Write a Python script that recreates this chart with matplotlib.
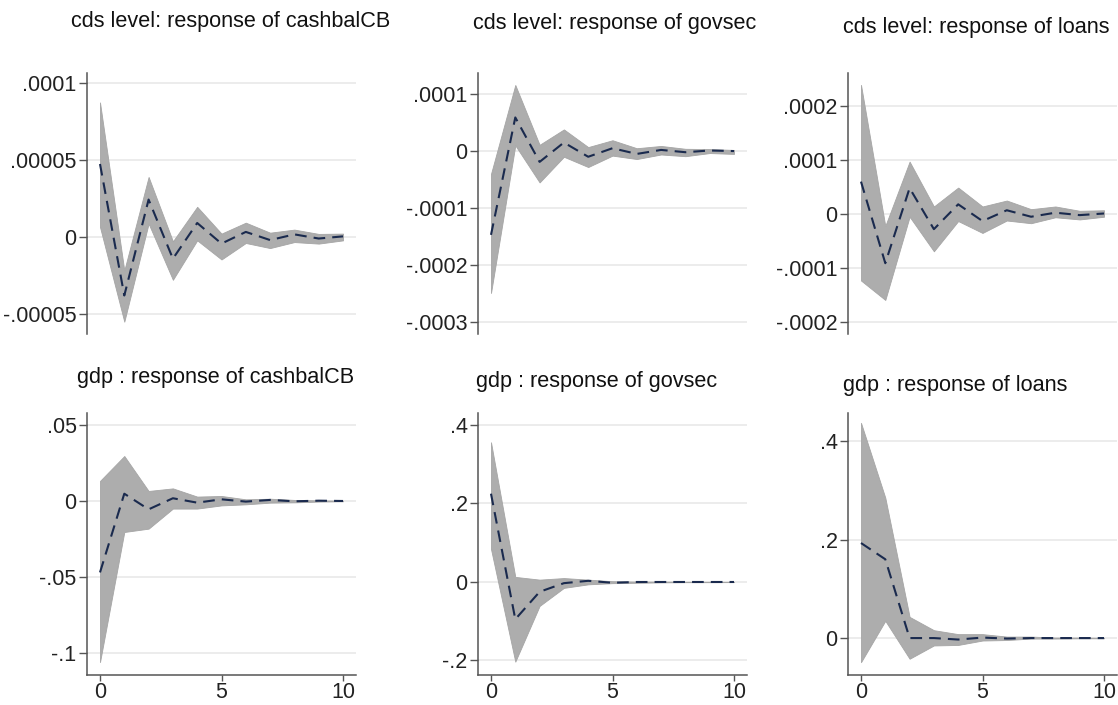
import matplotlib.pyplot as plt

plt.rcParams['font.family'] = ['Liberation Sans', 'DejaVu Sans']

steps = list(range(11))

# cds level -> cashbalCB
irf_cds_cash = [4.74e-5, -3.8e-5, 2.43e-5, -1.41e-5, 0.91e-5, -0.43e-5, 0.33e-5, -0.2e-5, 0.17e-5, -0.1e-5, 0.04e-5]
up_cds_cash = [8.74e-5, -2.17e-5, 3.9e-5, -0.28e-5, 1.96e-5, 0.22e-5, 0.93e-5, 0.28e-5, 0.48e-5, 0.2e-5, 0.22e-5]
lo_cds_cash = [0.65e-5, -5.5e-5, 0.87e-5, -2.78e-5, -0.22e-5, -1.46e-5, -0.39e-5, -0.72e-5, -0.33e-5, -0.43e-5, -0.22e-5]

# cds level -> govsec
irf_cds_gov = [-1.47e-4, 0.59e-4, -0.19e-4, 0.15e-4, -0.1e-4, 0.05e-4, -0.05e-4, 0.02e-4, -0.02e-4, 0.01e-4, 0.0]
up_cds_gov = [-0.4e-4, 1.16e-4, 0.11e-4, 0.38e-4, 0.07e-4, 0.19e-4, 0.05e-4, 0.09e-4, 0.04e-4, 0.035e-4, 0.02e-4]
lo_cds_gov = [-2.49e-4, 0.1e-4, -0.55e-4, -0.1e-4, -0.28e-4, -0.08e-4, -0.14e-4, -0.06e-4, -0.09e-4, -0.035e-4, -0.05e-4]

# cds level -> loans
irf_cds_loans = [0.6e-4, -0.91e-4, 0.48e-4, -0.28e-4, 0.18e-4, -0.13e-4, 0.07e-4, -0.05e-4, 0.025e-4, -0.02e-4, 0.01e-4]
up_cds_loans = [2.39e-4, -0.22e-4, 0.97e-4, 0.14e-4, 0.49e-4, 0.14e-4, 0.25e-4, 0.09e-4, 0.14e-4, 0.06e-4, 0.07e-4]
lo_cds_loans = [-1.23e-4, -1.59e-4, -0.05e-4, -0.69e-4, -0.13e-4, -0.35e-4, -0.12e-4, -0.17e-4, -0.06e-4, -0.1e-4, -0.05e-4]

# gdp -> cashbalCB
irf_gdp_cash = [-0.047, 0.0048, -0.0055, 0.0018, -0.0011, 0.0011, -0.0004, 0.0007, -0.0002, 0.0002, 0.0]
up_gdp_cash = [0.0132, 0.0296, 0.0066, 0.0083, 0.0029, 0.0033, 0.0011, 0.0015, 0.0007, 0.0004, 0.0002]
lo_gdp_cash = [-0.106, -0.0204, -0.0182, -0.005, -0.005, -0.0029, -0.0022, -0.0011, -0.0009, -0.0004, -0.0002]

# gdp -> govsec
irf_gdp_gov = [0.225, -0.095, -0.025, -0.003, 0.003, -0.002, 0.0, 0.0, 0.0, 0.0, 0.0]
up_gdp_gov = [0.356, 0.013, 0.006, 0.01, 0.006, 0.002, 0.001, 0.001, 0.0005, 0.0005, 0.0003]
lo_gdp_gov = [0.084, -0.203, -0.061, -0.015, -0.006, -0.003, -0.002, -0.001, -0.0005, -0.0005, -0.0003]

# gdp -> loans
irf_gdp_loans = [0.193, 0.16, 0.0, 0.0, -0.003, 0.001, -0.001, 0.0, 0.0, 0.0, 0.0]
up_gdp_loans = [0.437, 0.285, 0.043, 0.016, 0.008, 0.008, 0.003, 0.003, 0.001, 0.001, 0.0005]
lo_gdp_loans = [-0.049, 0.035, -0.042, -0.015, -0.014, -0.005, -0.004, -0.001, -0.001, -0.0005, -0.0005]

titles = ['cds level: response of cashbalCB', 'cds level: response of govsec', 'cds level: response of loans',
          'gdp : response of cashbalCB', 'gdp : response of govsec', 'gdp : response of loans']

yticks = [[1e-4, 5e-5, 0, -5e-5], [1e-4, 0, -1e-4, -2e-4, -3e-4], [2e-4, 1e-4, 0, -1e-4, -2e-4],
          [0.05, 0, -0.05, -0.1], [0.4, 0.2, 0, -0.2], [0.4, 0.2, 0]]
ylabels = [['.0001', '.00005', '0', '-.00005'], ['.0001', '0', '-.0001', '-.0002', '-.0003'],
           ['.0002', '.0001', '0', '-.0001', '-.0002'],
           ['.05', '0', '-.05', '-.1'], ['.4', '.2', '0', '-.2'], ['.4', '.2', '0']]
ylims = [(-0.63e-4, 1.065e-4), (-3.21e-4, 1.37e-4), (-2.22e-4, 2.61e-4),
         (-0.1145, 0.0579), (-0.237, 0.4306), (-0.075, 0.457)]

panels = [(irf_cds_cash, up_cds_cash, lo_cds_cash), (irf_cds_gov, up_cds_gov, lo_cds_gov),
          (irf_cds_loans, up_cds_loans, lo_cds_loans), (irf_gdp_cash, up_gdp_cash, lo_gdp_cash),
          (irf_gdp_gov, up_gdp_gov, lo_gdp_gov), (irf_gdp_loans, up_gdp_loans, lo_gdp_loans)]

W, H = 1118, 705
fig = plt.figure(figsize=(W / 100, H / 100), dpi=100)

lefts = [87, 478, 848]
width = 269
rows = [(73, 334), (413, 675)]
# title positions (pixels): left x, center y
title_pos = [(71, 21), (473, 23), (843, 28), (77, 377), (476, 381), (843, 385)]

for i, (irf, up, lo) in enumerate(panels):
    r, c = divmod(i, 3)
    top, bot = rows[r]
    ax = fig.add_axes([lefts[c] / W, 1 - bot / H, width / W, (bot - top) / H])
    ax.fill_between(steps, lo, up, color='#adadad', lw=0.6, edgecolor='#a5a5a5', zorder=2)
    ax.plot(steps, irf, color='#1a2a4e', lw=1.5, dashes=(5.6, 3.4), zorder=3)
    ax.set_xlim(-0.535, 10.535)
    ax.set_ylim(*ylims[i])
    ax.set_yticks(yticks[i])
    ax.set_yticklabels(ylabels[i])
    for y in yticks[i]:
        ax.axhline(y, color='#ebebeb', lw=1.3, zorder=1)
    for s in ['top', 'right']:
        ax.spines[s].set_visible(False)
    ax.spines['left'].set_color('#555555')
    ax.spines['left'].set_linewidth(1.1)
    ax.tick_params(axis='y', length=5.5, width=1, color='#555555', labelsize=15.5, pad=2, labelcolor='#222222')
    if r == 0:
        ax.spines['bottom'].set_visible(False)
        ax.set_xticks([])
    else:
        ax.spines['bottom'].set_color('#555555')
        ax.spines['bottom'].set_linewidth(1.1)
        ax.set_xticks([0, 5, 10])
        ax.tick_params(axis='x', length=4.5, width=1, color='#555555', labelsize=15.5, pad=0.5, labelcolor='#222222')
    tx, ty = title_pos[i]
    fig.text(tx / W, 1 - ty / H, titles[i], fontsize=15.6, color='#111111', ha='left', va='center')

fig.savefig('out.png', dpi=100)
